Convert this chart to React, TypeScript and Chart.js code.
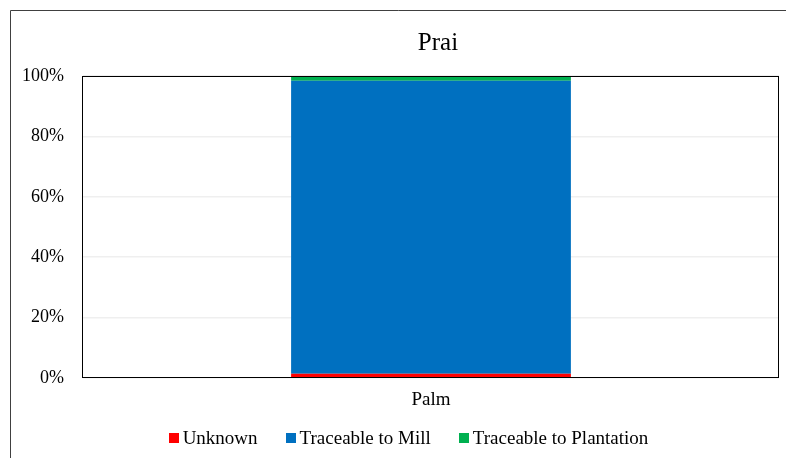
import React, { useEffect, useRef } from "react";
import { Chart, registerables } from "chart.js";

Chart.register(...registerables);

const chartTitle = "Prai";
const categories = ["Palm"];
const seriesNames = ["Unknown", "Traceable to Mill", "Traceable to Plantation"];
const unknownValues = [1.4];
const millValues = [97.0];
const plantationValues = [1.6];
const seriesColors = ["#ff0000", "#0070c0", "#00b050"];
const yTicks = [0, 20, 40, 60, 80, 100];

const FONT = "'Liberation Serif', 'Times New Roman', serif";

const framePlugin = {
  id: "frame",
  beforeDraw(chart: any) {
    const ctx = chart.ctx;
    ctx.save();
    ctx.fillStyle = "#ffffff";
    ctx.fillRect(0, 0, chart.width, chart.height);
    ctx.strokeStyle = "#404040";
    ctx.lineWidth = 1;
    ctx.beginPath();
    ctx.moveTo(10.5, chart.height + 5);
    ctx.lineTo(10.5, 10.5);
    ctx.lineTo(chart.width + 5, 10.5);
    ctx.stroke();
    ctx.restore();
  },
  afterDatasetsDraw(chart: any) {
    const ctx = chart.ctx;
    const a = chart.chartArea;
    ctx.save();
    ctx.strokeStyle = "#000000";
    ctx.lineWidth = 1;
    ctx.strokeRect(Math.round(a.left) - 0.5, Math.round(a.top) + 0.5, Math.round(a.right - a.left), Math.round(a.bottom - a.top) - 1);
    // title
    ctx.fillStyle = "#000000";
    ctx.font = `25px ${FONT}`;
    ctx.textAlign = "center";
    ctx.textBaseline = "middle";
    ctx.fillText(chartTitle, 438, 43);
    // legend
    ctx.font = `19px ${FONT}`;
    ctx.textAlign = "left";
    const box = 10;
    const boxGap = 4;
    const itemGap = 28;
    const widths = seriesNames.map((n) => ctx.measureText(n).width);
    const total = widths.reduce((s, w) => s + box + boxGap + w, 0) + itemGap * (seriesNames.length - 1);
    let x = 408.5 - total / 2;
    const cy = 438;
    seriesNames.forEach((n, i) => {
      ctx.fillStyle = seriesColors[i];
      ctx.fillRect(Math.round(x), cy - 5, box, box);
      ctx.fillStyle = "#000000";
      ctx.fillText(n, x + box + boxGap, cy + 1);
      x += box + boxGap + widths[i] + itemGap;
    });
    ctx.restore();
  },
};

export default function App() {
  const ref = useRef<HTMLCanvasElement | null>(null);
  useEffect(() => {
    if (!ref.current) return;
    const values = [unknownValues, millValues, plantationValues];
    const chart = new Chart(ref.current, {
      type: "bar",
      data: {
        labels: categories,
        datasets: seriesNames.map((name, i) => ({
          label: name,
          data: values[i],
          backgroundColor: seriesColors[i],
          borderWidth: 0,
          categoryPercentage: 1,
          barPercentage: 0.402,
        })),
      },
      options: {
        animation: false,
        responsive: false,
        devicePixelRatio: 1,
        layout: { padding: { top: 76, left: 10, right: 7, bottom: 39 } },
        plugins: {
          title: { display: false },
          tooltip: { enabled: false },
          legend: { display: false },
        },
        scales: {
          x: {
            stacked: true,
            grid: { display: false, drawTicks: false },
            border: { display: false },
            ticks: { color: "#000000", font: { family: FONT, size: 19 }, padding: 11 },
            afterFit(scale: any) {
              scale.height = 41;
            },
          },
          y: {
            stacked: true,
            min: 0,
            max: 100,
            afterBuildTicks(scale: any) {
              scale.ticks = yTicks.map((v) => ({ value: v }));
            },
            afterFit(scale: any) {
              scale.width = 73;
            },
            grid: { color: "#efefef", lineWidth: 1.5, drawTicks: false },
            border: { display: false },
            ticks: {
              color: "#000000",
              font: { family: FONT, size: 18 },
              padding: 19,
              callback: (v: any) => `${v}%`,
            },
          },
        },
      },
      plugins: [framePlugin],
    });
    return () => chart.destroy();
  }, []);
  return (
    <div style={{ position: "fixed", left: 0, top: 0, width: 786, height: 458, overflow: "hidden", background: "#fff" }}>
      <canvas ref={ref} width={786} height={458} style={{ display: "block" }} />
    </div>
  );
}
